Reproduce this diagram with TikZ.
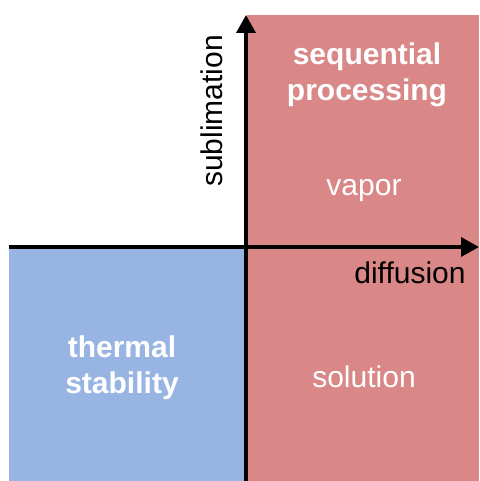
\documentclass[tikz,border=0pt]{standalone}
\usepackage{fontspec}
\setmainfont{Liberation Sans}
\usetikzlibrary{arrows.meta}
\definecolor{quadred}{RGB}{217,135,135}
\definecolor{quadblue}{RGB}{152,180,226}
\begin{document}
\begin{tikzpicture}[x=1pt,y=-1pt,
  axis/.style={line width=3.6pt,-{Triangle[width=19pt,length=18pt]}},
  bigtext/.style={font=\fontsize{30}{36}\selectfont\bfseries,text=white,align=center,inner sep=0pt},
  plaintext/.style={font=\fontsize{30}{36}\selectfont,inner sep=0pt},
]
\useasboundingbox (0,0) rectangle (479,481);
\fill[quadred] (247,15) rectangle (479,481);
\fill[quadblue] (9,249) rectangle (245,481);
\coordinate (xs) at (9,247);
\coordinate (xe) at (479,247);
\coordinate (ys) at (246,481);
\coordinate (ye) at (246,15);
\draw[axis] (xs) -- (xe);
\draw[axis] (ys) -- (ye);
\node[bigtext] (seq) at (367,75) {sequential\\processing};
\node[bigtext] (therm) at (122,368) {thermal\\stability};
\node[plaintext,text=white,anchor=base] (vap) at (364,195) {vapor};
\node[plaintext,text=white,anchor=base] (sol) at (364,387) {solution};
\node[plaintext,anchor=base] (dif) at (410,283) {diffusion};
\node[plaintext,anchor=base,rotate=90] (sub) at (222,111) {sublimation};
\end{tikzpicture}
\end{document}
